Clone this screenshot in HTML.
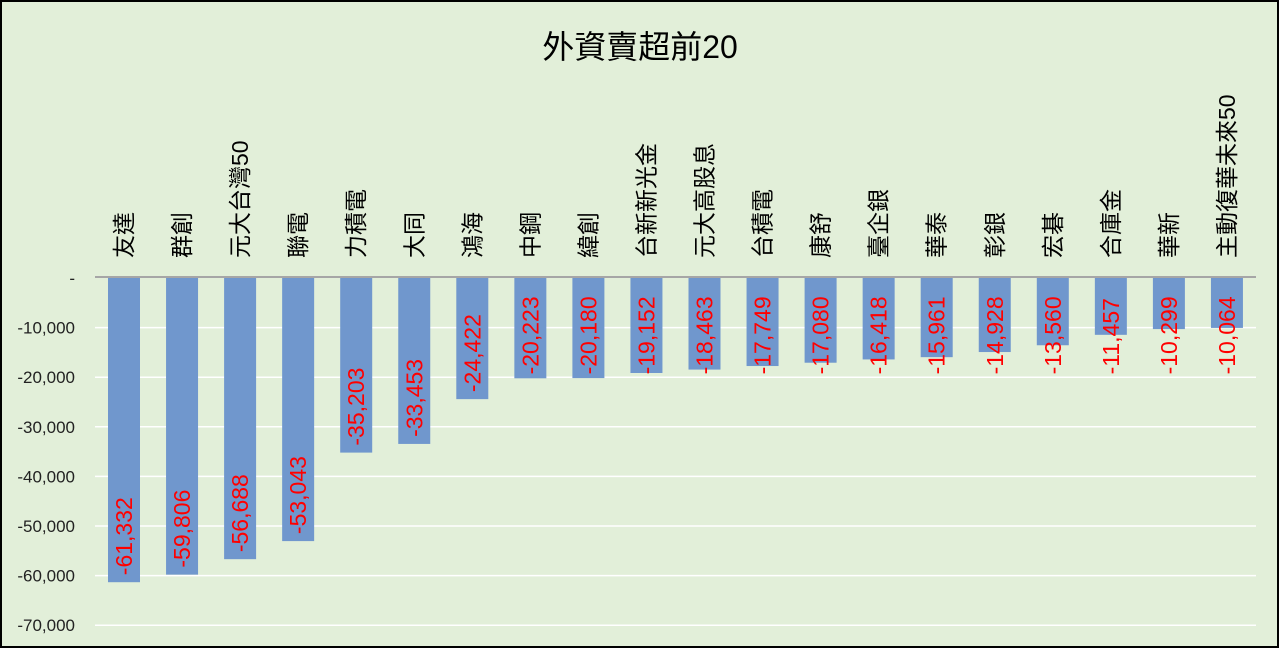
<!DOCTYPE html>
<html><head><meta charset="utf-8"><style>
body{margin:0;width:1280px;height:649px;overflow:hidden;background:#fff}
#c{position:absolute;left:0;top:0;width:1280px;height:649px}
</style></head><body>
<svg id="c" width="1280" height="649" xmlns="http://www.w3.org/2000/svg" font-family="'Liberation Sans','Noto Sans CJK TC',sans-serif">
<rect x="1" y="1" width="1277" height="646" fill="#e2efd9" stroke="#000" stroke-width="2"/>
<text x="640" y="58" font-size="32" text-anchor="middle" fill="#000">外資賣超前20</text>
<g id="grid"></g><g id="bars"></g><g id="labels"></g>
</svg>
<script>
const categories=["友達","群創","元大台灣50","聯電","力積電","大同","鴻海","中鋼","緯創","台新新光金","元大高股息","台積電","康舒","臺企銀","華泰","彰銀","宏碁","合庫金","華新","主動復華未來50"];
const values=[-61332,-59806,-56688,-53043,-35203,-33453,-24422,-20223,-20180,-19152,-18463,-17749,-17080,-16418,-15961,-14928,-13560,-11457,-10299,-10064];
const ticks=[0,-10000,-20000,-30000,-40000,-50000,-60000,-70000];
const NS="http://www.w3.org/2000/svg";
const y0=278,pxPer=49.6/10000;
const y=v=>y0-v*pxPer;
const x=i=>124+i*58.05;
function mk(t,a,p){const e=document.createElementNS(NS,t);for(const k in a)e.setAttribute(k,a[k]);p.appendChild(e);return e;}
const grid=document.getElementById('grid'),bars=document.getElementById('bars'),labels=document.getElementById('labels');
ticks.forEach(t=>{
  if(t!==0){const g=mk('line',{x1:95,x2:1256,y1:y(t),y2:y(t),stroke:'#fff','stroke-width':1.5},grid);
  
  }
  const tx=mk('text',{x:75,y:y(t)+6,'font-size':17,'text-anchor':'end',fill:'#222'},grid);
  tx.textContent=t===0?'-':t.toLocaleString('en-US');
  
  
});
values.forEach((v,i)=>{
  const r=mk('rect',{x:x(i)-16,y:y0,width:32,height:y(v)-y0,fill:'#7097cd'},bars);
  
  
  const c=mk('text',{transform:`translate(${x(i)+8},258) rotate(-90)`,'font-size':23,fill:'#000'},labels);
  c.textContent=categories[i];
  
  
  const s=v.toLocaleString('en-US');
  const len=s.length*12.2;
  let bottom=y(v)-7;
  if(bottom-len<289)bottom=289+len;
  const vl=mk('text',{transform:`translate(${x(i)+8},${bottom}) rotate(-90)`,'font-size':23,fill:'#f00'},labels);
  vl.textContent=s;
  
  
});
const ax=mk('line',{x1:95,x2:1256,y1:y0-1,y2:y0-1,stroke:'#a6a6a6','stroke-width':2},grid);


</script>
</body></html>
